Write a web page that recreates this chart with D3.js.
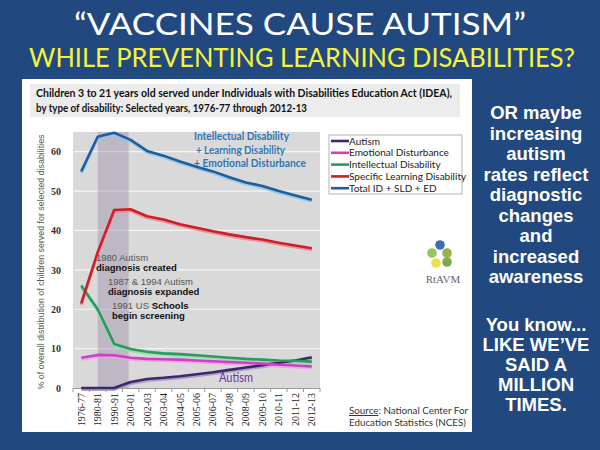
<!DOCTYPE html>
<html><head><meta charset="utf-8">
<script src="https://cdn.jsdelivr.net/npm/d3@7"></script>
<style>html,body{margin:0;padding:0;background:#21497f;}svg{display:block;}</style>
</head><body>
<script>
const categories = ["1976-77","1980-81","1990-91","2000-01","2002-03","2003-04","2004-05","2005-06","2006-07","2007-08","2008-09","2009-10","2010-11","2011-12","2012-13"];
const autism       = [0,0,0,1.5,2.3,2.6,3.0,3.5,4.0,4.6,5.2,5.8,6.4,7.0,7.8];
const emotional    = [7.7,8.4,8.3,7.7,7.4,7.3,7.2,7.0,6.8,6.6,6.4,6.2,5.9,5.7,5.5];
const intellectual = [26.0,20.0,11.2,9.9,9.2,8.8,8.6,8.3,8.0,7.7,7.4,7.2,7.0,6.9,6.7];
const learning     = [21.5,34.5,45.2,45.4,43.6,42.8,41.6,40.7,39.8,39.0,38.3,37.7,36.9,36.2,35.5];
const total        = [55.0,63.8,64.8,63.0,60.2,59.0,57.5,56.2,55.0,53.5,52.2,51.3,50.0,48.9,47.8];
const seriesNames  = ["Autism","Emotional Disturbance","Intellectual Disability","Specific Learning Disability","Total ID + SLD + ED"];
const yTicks = [0,10,20,30,40,50,60];
const shadeRange = ["1980-81","2000-01"];

const colors = ["#3b2868","#cf3fc4","#2a9a5e","#cc1f2b","#1f5d9c"];
const glow   = ["#a898c8","#f0a0e8","#90e0a8","#f08890","#8fc4ee"];
const seriesVals = [autism, emotional, intellectual, learning, total];

const W = 600, H = 450;
const svg = d3.select("body").append("svg").attr("width", W).attr("height", H);
svg.append("rect").attr("width", W).attr("height", H).attr("fill", "#21497f");

// titles (fitted horizontally by scaling, so the natural text never exceeds the page)
function fitted(text, cxp, base, size, targetW, fill) {
  const t = svg.append("text").attr("text-anchor","middle")
    .attr("font-family","Lato, 'Open Sans', sans-serif").attr("font-size", size).attr("fill", fill).text(text);
  const w = t.node().getComputedTextLength();
  t.attr("transform", `translate(${cxp},${base}) scale(${targetW / w},1)`);
  return t;
}
fitted("\u201CVACCINES CAUSE AUTISM\u201D", 300, 34.5, 31, 452, "#fff");
fitted("WHILE PREVENTING LEARNING DISABILITIES?", 302, 67, 26, 546, "#f4f43a");

// white panel
svg.append("rect").attr("x", 22).attr("y", 79).attr("width", 450).attr("height", 353).attr("fill", "#fff");
svg.append("rect").attr("x", 30).attr("y", 84).attr("width", 430).attr("height", 33).attr("fill", "#ececec");
svg.append("text").attr("x", 36).attr("y", 96.5)
  .attr("font-family","Lato, sans-serif").attr("font-weight","bold").attr("font-size", 10.8).attr("fill","#111")
  .attr("textLength", 416).attr("lengthAdjust","spacingAndGlyphs")
  .text("Children 3 to 21 years old served under Individuals with Disabilities Education Act (IDEA),");
svg.append("text").attr("x", 36).attr("y", 112)
  .attr("font-family","Lato, sans-serif").attr("font-weight","bold").attr("font-size", 10.8).attr("fill","#111")
  .attr("textLength", 271).attr("lengthAdjust","spacingAndGlyphs")
  .text("by type of disability:  Selected years, 1976-77 through  2012-13");

// plot
const x = d3.scaleBand().domain(categories).range([73, 320]).padding(0);
const cx = d => x(d) + x.bandwidth()/2;
const y = d3.scaleLinear().domain([0, 65]).range([388, 132]);

svg.append("rect").attr("x", 73).attr("y", 132).attr("width", 247).attr("height", 256).attr("fill", "#d9d9d9");
svg.append("g").selectAll("line").data(yTicks.filter(t=>t>0)).join("line")
  .attr("x1", 73).attr("x2", 320).attr("y1", d=>y(d)).attr("y2", d=>y(d))
  .attr("stroke","#f4f4f4").attr("stroke-width",1.2);
svg.append("rect").attr("x", cx(shadeRange[0])).attr("y", 132)
  .attr("width", cx(shadeRange[1]) - cx(shadeRange[0]) - 2).attr("height", 256)
  .attr("fill", "#8a7a9e").attr("opacity", 0.35);

// y axis
const yAxis = svg.append("g").attr("transform","translate(73,0)")
  .call(d3.axisLeft(y).tickValues(yTicks).tickSize(0).tickPadding(12));
yAxis.select(".domain").remove();
yAxis.selectAll("text").attr("font-family","'Liberation Serif', serif").attr("font-weight","bold")
  .attr("font-size", 10).attr("fill","#333");

// x axis
const xAxis = svg.append("g").attr("transform","translate(0,388)")
  .call(d3.axisBottom(x).tickSize(0).tickPadding(0));
xAxis.select(".domain").attr("stroke","#999");
xAxis.selectAll("text").attr("font-family","'Liberation Serif', serif").attr("font-size", 10).attr("fill","#222")
  .attr("text-anchor","end").attr("transform","translate(3.5,5) rotate(-90)").attr("dy","0").attr("x",0).attr("y",0);
svg.append("g").selectAll("line").data(categories.concat(["__end"])).join("line")
  .attr("x1", (d,i)=> 73 + i*x.bandwidth()).attr("x2",(d,i)=> 73 + i*x.bandwidth())
  .attr("y1", 388).attr("y2", 392).attr("stroke","#999");

// y axis title
svg.append("text").attr("transform","translate(44,262) rotate(-90)").attr("text-anchor","middle")
  .attr("font-family","'Liberation Sans', Arial, sans-serif").attr("font-size", 8.5).attr("fill","#555")
  .attr("textLength", 255).attr("lengthAdjust","spacingAndGlyphs")
  .text("% of overall distribution of children served for selected disabilities");

// lines
const line = d3.line().x((d,i)=>cx(categories[i])).y(d=>y(d)).curve(d3.curveLinear);
seriesVals.forEach((vals, k) => {
  svg.append("path").datum(vals).attr("d", line).attr("fill","none")
    .attr("stroke", glow[k]).attr("stroke-width", 3).attr("transform","translate(0,1.5)").attr("opacity",0.9);
});
seriesVals.forEach((vals, k) => {
  svg.append("path").datum(vals).attr("d", line).attr("fill","none")
    .attr("stroke", colors[k]).attr("stroke-width", 2.6).attr("stroke-linejoin","round");
});

// annotations
const ann = svg.append("g").attr("font-family","'Liberation Sans', Arial, sans-serif").attr("font-size", 9.5);
function twoPart(xp, yp, a, b, bBold) {
  const t = ann.append("text").attr("x", xp).attr("y", yp);
  t.append("tspan").attr("fill","#555").text(a);
  if (b) t.append("tspan").attr("fill","#111").attr("font-weight", bBold ? "bold":"normal").text(b);
}
twoPart(96, 261, "1980 Autism", "");
twoPart(96, 271, "", "diagnosis created", true);
twoPart(108, 285, "1987 & 1994 Autism", "");
twoPart(108, 295, "", "diagnosis expanded", true);
twoPart(112, 309, "1991 US ", "Schools", true);
twoPart(112, 319, "", "begin screening", true);

const blueAnn = svg.append("g").attr("font-family","Lato, sans-serif").attr("font-weight","bold")
  .attr("font-size", 11).attr("fill","#2e75b6");
blueAnn.append("text").attr("x",194).attr("y",140).attr("textLength",95).attr("lengthAdjust","spacingAndGlyphs").text("Intellectual Disability");
blueAnn.append("text").attr("x",196).attr("y",154).attr("textLength",89).attr("lengthAdjust","spacingAndGlyphs").text("+ Learning Disability");
blueAnn.append("text").attr("x",194).attr("y",167).attr("textLength",112).attr("lengthAdjust","spacingAndGlyphs").text("+ Emotional  Disturbance");

svg.append("text").attr("x",219).attr("y",382).attr("font-family","Lato, sans-serif").attr("font-size",12.5)
  .attr("fill","#7030a0").attr("textLength",34).attr("lengthAdjust","spacingAndGlyphs").text("Autism");

// legend
svg.append("rect").attr("x",329).attr("y",135).attr("width",133).attr("height",59)
  .attr("fill","#fff").attr("stroke","#a0a0a0").attr("stroke-width",0.8);
const lg = svg.append("g").selectAll("g").data(seriesNames).join("g")
  .attr("transform",(d,i)=>`translate(331,${141 + i*11.8})`);
lg.append("line").attr("x1",0).attr("x2",18).attr("y1",0).attr("y2",0)
  .attr("stroke",(d,i)=>colors[i]).attr("stroke-width",2.6);
lg.append("text").attr("x",18).attr("y",3.5).attr("font-family","Lato, sans-serif").attr("font-size",10)
  .attr("fill","#222").text(d=>d);

// logo
const logo = svg.append("g").attr("transform","translate(442,257)");
const logoDots = [[-2,-12,"#2b5ea8"],[-10,-4,"#8bbf50"],[5,-4,"#8ca83c"],[-6,6,"#e6df3c"],[5,5,"#6ea132"]];
logo.selectAll("circle").data(logoDots).join("circle")
  .attr("cx",d=>d[0]).attr("cy",d=>d[1]).attr("r",4.8).attr("fill",d=>d[2]).attr("opacity",0.9);
svg.append("text").attr("x",443).attr("y",283).attr("text-anchor","middle")
  .attr("font-family","'Liberation Serif', serif").attr("font-size",11).attr("fill","#666").text("RtAVM");

// source
const src = svg.append("g").attr("font-family","Lato, sans-serif").attr("font-size",9.8).attr("fill","#333");
const s1 = src.append("text").attr("x",349).attr("y",414);
s1.append("tspan").attr("text-decoration","underline").text("Source");
s1.append("tspan").text(": National Center For");
src.append("text").attr("x",349).attr("y",426).text("Education Statistics (NCES)");

// right column text
const rightLines = ["OR maybe","increasing","autism","rates reflect","diagnostic","changes","and","increased","awareness"];
const rightLines2 = ["You know...","LIKE WE\u2019VE","SAID A","MILLION","TIMES."];
const rc = svg.append("g").attr("font-family","'Liberation Sans', Arial, sans-serif").attr("font-weight","bold")
  .attr("font-size",18.5).attr("fill","#fff").attr("text-anchor","middle");
rc.selectAll("text.a").data(rightLines).join("text").attr("class","a")
  .attr("x",536).attr("y",(d,i)=>119 + i*20.5).text(d=>d);
rc.selectAll("text.b").data(rightLines2).join("text").attr("class","b")
  .attr("x",536).attr("y",(d,i)=>331 + i*20).text(d=>d);
</script>
</body></html>
